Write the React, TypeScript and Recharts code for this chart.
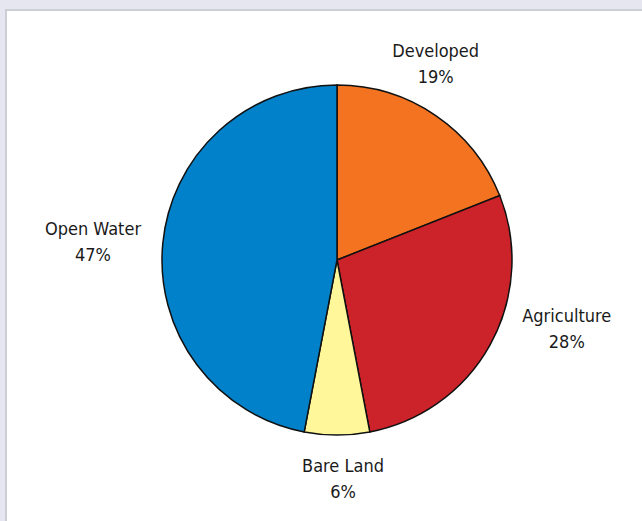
import { Pie, PieChart, Cell } from "recharts";

const categories = ["Developed", "Agriculture", "Bare Land", "Open Water"];
const shares = [19, 28, 6, 47];
const colors = ["#f47321", "#cc2229", "#fff799", "#0081c9"];

// small tweaks so each label sits where the reference puts it
const labelNudge: Record<string, [number, number]> = {
  Developed: [-25, -15],
  Agriculture: [37, -37],
  "Bare Land": [6, -2],
  "Open Water": [-25, 2],
};

const data = categories.map((name, i) => ({ name, value: shares[i] }));

const RAD = Math.PI / 180;

function SliceLabel(props: any) {
  const { cx, cy, midAngle, outerRadius, name, value } = props;
  const r = outerRadius + 45;
  const [nx, ny] = labelNudge[name] ?? [0, 0];
  const x = cx + r * Math.cos(-midAngle * RAD) + nx;
  const y = cy + r * Math.sin(-midAngle * RAD) + ny;
  const style = {
    fontFamily: '"DejaVu Sans Condensed", "Liberation Sans Narrow", sans-serif',
    fontSize: 18,
    fill: "#1a1a1a",
  };
  return (
    <g>
      <text x={x} y={y - 13} textAnchor="middle" dominantBaseline="central" style={style}>
        {name}
      </text>
      <text x={x} y={y + 13} textAnchor="middle" dominantBaseline="central" style={style}>
        {value}%
      </text>
    </g>
  );
}

export default function App() {
  return (
    <div
      style={{
        position: "fixed",
        left: 0,
        top: 0,
        width: 642,
        height: 521,
        background: "#e6e6f0",
        overflow: "hidden",
      }}
    >
      <div
        style={{
          position: "absolute",
          left: 5,
          top: 9,
          width: 660,
          height: 540,
          background: "#ffffff",
          borderLeft: "2px solid #cdcdd6",
          borderTop: "2px solid #cdcdd6",
        }}
      />
      <div style={{ position: "absolute", left: 0, top: 0 }}>
        <PieChart width={642} height={521} margin={{ top: 0, right: 0, bottom: 0, left: 0 }}>
          <Pie
            data={data}
            dataKey="value"
            nameKey="name"
            cx={337}
            cy={260}
            outerRadius={175}
            startAngle={90}
            endAngle={-270}
            stroke="#111111"
            strokeWidth={1.5}
            label={SliceLabel}
            labelLine={false}
            isAnimationActive={false}
          >
            {data.map((d, i) => (
              <Cell key={d.name} fill={colors[i]} />
            ))}
          </Pie>
        </PieChart>
      </div>
    </div>
  );
}
